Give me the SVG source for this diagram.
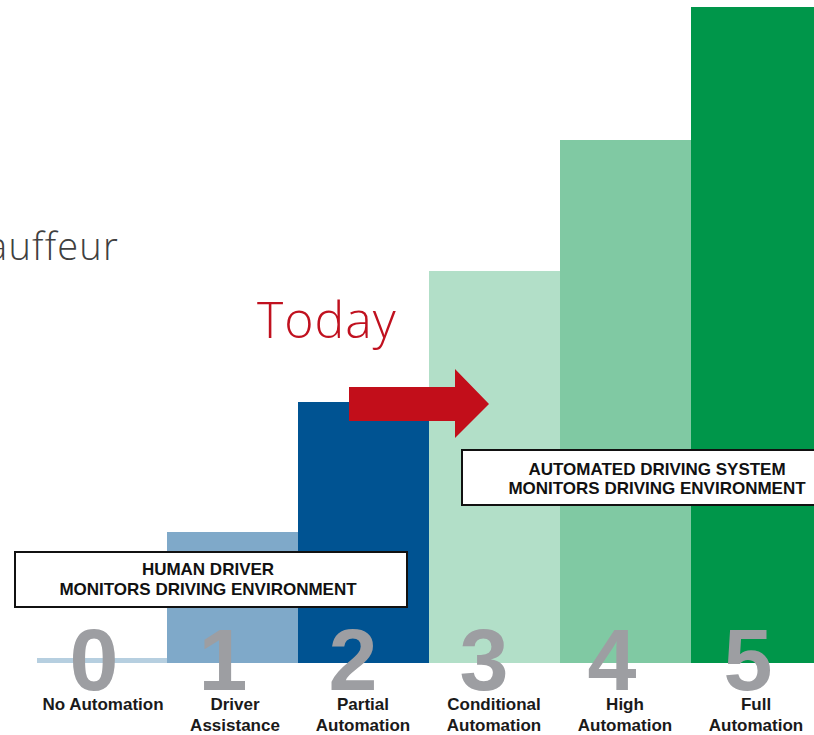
<svg xmlns="http://www.w3.org/2000/svg" width="814" height="735" viewBox="0 0 814 735">
<style>
.digit{font-family:"Liberation Sans",Arial,sans-serif;font-weight:bold;font-size:88px;fill:#9d9ea2;text-anchor:middle}
.lbl{font-family:"Liberation Sans",Arial,sans-serif;font-weight:bold;font-size:17px;fill:#1a1a1a;text-anchor:middle}
.box{fill:#ffffff;stroke:#111111;stroke-width:2}
.boxt{font-family:"Liberation Sans",Arial,sans-serif;font-weight:bold;font-size:17px;fill:#111111;text-anchor:middle}
</style>
<rect width="814" height="735" fill="#ffffff"/>
<text x="119" y="260" font-family="'Open Sans',sans-serif" font-weight="300" font-size="38" letter-spacing="1.2" fill="#404040" text-anchor="end">auffeur</text>
<g id="level0"><rect x="37" y="658" width="130" height="5" fill="#b6cfe0"/><text class="digit" x="94" y="690">0</text><text class="lbl" x="103" y="710">No Automation</text></g>
<g id="level1"><rect x="167" y="532" width="131" height="131" fill="#7fa9c9"/><text class="digit" x="223" y="690">1</text><text class="lbl" x="235" y="710">Driver</text><text class="lbl" x="235" y="731">Assistance</text></g>
<g id="level2"><rect x="298" y="402" width="131" height="261" fill="#005392"/><text class="digit" x="353" y="690">2</text><text class="lbl" x="363" y="710">Partial</text><text class="lbl" x="363" y="731">Automation</text></g>
<g id="level3"><rect x="429" y="271" width="131" height="392" fill="#b2dfc8"/><text class="digit" x="484" y="690">3</text><text class="lbl" x="494" y="710">Conditional</text><text class="lbl" x="494" y="731">Automation</text></g>
<g id="level4"><rect x="560" y="140" width="131" height="523" fill="#80c9a3"/><text class="digit" x="612" y="690">4</text><text class="lbl" x="625" y="710">High</text><text class="lbl" x="625" y="731">Automation</text></g>
<g id="level5"><rect x="691" y="7" width="123" height="656" fill="#00964a"/><text class="digit" x="748" y="690">5</text><text class="lbl" x="756" y="710">Full</text><text class="lbl" x="756" y="731">Automation</text></g>
<g id="today"><text x="257" y="338" font-family="'Open Sans',sans-serif" font-weight="300" font-size="50" letter-spacing="1" fill="#c0111f">Today</text><polygon points="349,387 455,387 455,369 489,404 455,438 455,421 349,421" fill="#c20e1a"/></g>
<g id="human"><rect class="box" x="15" y="552" width="392" height="55"/><text class="boxt" x="208" y="575">HUMAN DRIVER</text><text class="boxt" x="208" y="595">MONITORS DRIVING ENVIRONMENT</text></g>
<g id="automated"><rect class="box" x="462" y="450" width="360" height="55"/><text class="boxt" x="657" y="475">AUTOMATED DRIVING SYSTEM</text><text class="boxt" x="657" y="494">MONITORS DRIVING ENVIRONMENT</text></g>
</svg>
